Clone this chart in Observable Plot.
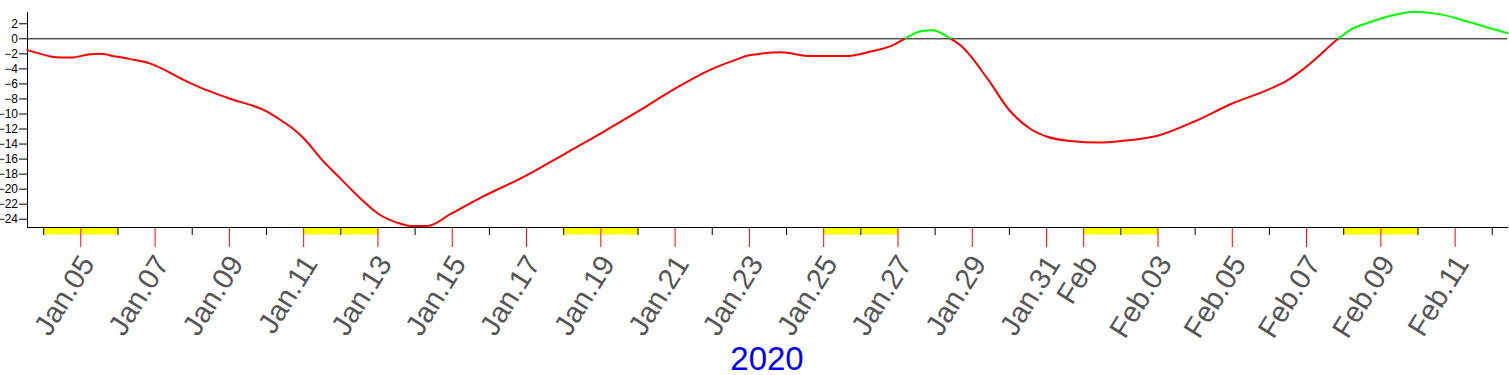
<!DOCTYPE html>
<html><head><meta charset="utf-8">
<script src="https://cdn.jsdelivr.net/npm/d3@7"></script>
<script src="https://cdn.jsdelivr.net/npm/@observablehq/plot@0.6"></script>
<style>
body{margin:0;background:#fff;}
#caption{width:1509px;box-sizing:border-box;padding-left:27px;padding-right:2px;text-align:center;font-family:"Liberation Sans",Arial,sans-serif;font-size:33px;color:#0000ff;line-height:38px;}
</style></head><body>
<div id="chart"></div>
<div id="caption">2020</div>
<script>
// series
const times = [
"2020-01-03T13:34","2020-01-03T22:00","2020-01-04T07:40","2020-01-04T17:25","2020-01-05T06:16","2020-01-05T12:43",
"2020-01-05T22:25","2020-01-06T08:07","2020-01-06T21:03","2020-01-07T06:43","2020-01-07T16:25","2020-01-08T05:21",
"2020-01-08T23:27","2020-01-09T23:21","2020-01-10T09:03","2020-01-10T16:45","2020-01-10T23:54","2020-01-11T11:00","2020-01-11T23:48",
"2020-01-12T13:00","2020-01-12T23:43","2020-01-13T14:34","2020-01-13T21:00","2020-01-14T08:00","2020-01-14T23:00",
"2020-01-15T18:45","2020-01-16T23:45","2020-01-17T23:54","2020-01-18T23:46","2020-01-19T23:46","2020-01-21T00:14",
"2020-01-22T00:00","2020-01-22T13:41","2020-01-23T00:00","2020-01-23T20:10","2020-01-24T15:22","2020-01-25T14:10",
"2020-01-26T06:14","2020-01-26T21:07","2020-01-27T04:19","2020-01-27T14:38","2020-01-27T22:19","2020-01-28T10:05",
"2020-01-28T16:34","2020-01-29T09:50","2020-01-30T00:00","2020-01-30T13:41","2020-01-31T00:00","2020-01-31T15:22",
"2020-02-01T10:48","2020-02-01T23:46","2020-02-02T23:46","2020-02-03T23:31","2020-02-05T00:00","2020-02-06T00:00",
"2020-02-06T11:00","2020-02-06T20:10","2020-02-07T04:34","2020-02-07T20:24","2020-02-08T04:19","2020-02-08T15:22",
"2020-02-09T01:40","2020-02-09T12:29","2020-02-09T21:07","2020-02-10T14:38","2020-02-11T07:55","2020-02-11T22:48",
"2020-02-12T09:50"];
const values = [
-1.5,-2.0,-2.45,-2.5,-2.05,-2.0,
-2.35,-2.7,-3.3,-4.2,-5.25,-6.5,
-7.9,-9.6,-10.8,-11.9,-13.2,-15.9,-18.6,
-21.3,-23.2,-24.6,-24.9,-24.9,-23.3,
-21.1,-18.2,-15.4,-12.6,-9.7,-6.6,
-4.0,-2.9,-2.2,-1.8,-2.3,-2.3,
-1.7,-0.8,0,1.0,1.15,0,
-0.9,-5.3,-9.5,-12.0,-13.0,-13.6,
-13.8,-13.6,-12.9,-11.0,-8.6,-6.7,
-5.6,-4.3,-2.9,0,1.2,2.1,
2.8,3.33,3.6,3.25,2.3,1.4,
0.75];
// axis ticks / labels
const yTicks = [2,0,-2,-4,-6,-8,-10,-12,-14,-16,-18,-20,-22,-24];
const yDomain = [-25.1, 3.5];
const labelTicks = ["2020-01-05","2020-01-07","2020-01-09","2020-01-11","2020-01-13","2020-01-15","2020-01-17",
"2020-01-19","2020-01-21","2020-01-23","2020-01-25","2020-01-27","2020-01-29","2020-01-31","2020-02-01",
"2020-02-03","2020-02-05","2020-02-07","2020-02-09","2020-02-11"];
const minorTicks = ["2020-01-04","2020-01-06","2020-01-08","2020-01-10","2020-01-12","2020-01-14","2020-01-16",
"2020-01-18","2020-01-20","2020-01-22","2020-01-24","2020-01-26","2020-01-28","2020-01-30","2020-02-02",
"2020-02-04","2020-02-06","2020-02-08","2020-02-10","2020-02-12"];
const weekendStarts = ["2020-01-04","2020-01-11","2020-01-18","2020-01-25","2020-02-01","2020-02-08"];
const weekendEnds   = ["2020-01-06","2020-01-13","2020-01-20","2020-01-27","2020-02-03","2020-02-10"];
const monthNames = ["Jan","Feb"];

const D = s => new Date((s.length === 10 ? s + "T00:00" : s) + "Z");
const data = times.map((t, i) => ({t: D(t), v: values[i]}));
const weekends = weekendStarts.map((s, i) => ({s: D(s), e: D(weekendEnds[i])}));
const fmt = d => {
  const m = monthNames[d.getUTCMonth()], day = d.getUTCDate();
  return day === 1 ? m : m + "." + String(day).padStart(2, "0");
};

const chart = Plot.plot({
  width: 1509, height: 340,
  marginLeft: 27, marginRight: 2, marginTop: 12, marginBottom: 113,
  style: {fontFamily: '"Liberation Sans", Arial, sans-serif', background: "white", overflow: "visible", color: "black"},
  x: {type: "utc", domain: [data[0].t, data[data.length - 1].t]},
  y: {domain: yDomain},
  marks: [
    Plot.ruleY(weekends, {x1: "s", x2: "e", y: yDomain[0], stroke: "#ffff00", strokeWidth: 7, dy: 3.5}),
    Plot.axisY(yTicks, {tickSize: 8, tickPadding: 1.5, fontSize: 12, label: null, stroke: "black", fill: "black"}),
    Plot.axisX(minorTicks.map(D), {tickSize: 8, stroke: "black", tickFormat: () => "", label: null}),
    Plot.axisX(labelTicks.map(D), {tickSize: 20, stroke: "red", tickFormat: () => "", label: null}),
    Plot.axisX(labelTicks.map(D), {tickSize: 20, stroke: "none", fill: "#555", tickRotate: -58, fontSize: 29, tickFormat: fmt, label: null, dx: 7, dy: 6}),
    Plot.frame({anchor: "left", stroke: "black"}),
    Plot.frame({anchor: "bottom", stroke: "black"}),
    Plot.ruleY([0], {stroke: "black"}),
    Plot.line(data, {x: "t", y: "v", stroke: "#ff0000", strokeWidth: 2, curve: "monotone-x"}),
    Plot.line(data, {x: "t", y: "v", stroke: "#00ff00", strokeWidth: 2, curve: "monotone-x"})
  ]
});

// colour the line by sign: clip the two copies at the zero level of the y scale
const y0 = chart.scale("y").apply(0);
const ns = "http://www.w3.org/2000/svg";
const defs = document.createElementNS(ns, "defs");
function addClip(id, y, h) {
  const cp = document.createElementNS(ns, "clipPath"); cp.setAttribute("id", id);
  const r = document.createElementNS(ns, "rect");
  r.setAttribute("x", -10); r.setAttribute("y", y); r.setAttribute("width", 1600); r.setAttribute("height", h);
  cp.appendChild(r); defs.appendChild(cp);
}
addClip("negClip", y0, 1000);
addClip("posClip", -1000, y0 + 1000);
chart.insertBefore(defs, chart.firstChild);
const lines = chart.querySelectorAll('g[aria-label="line"]');
if (lines.length === 2) {
  lines[0].setAttribute("clip-path", "url(#negClip)");
  lines[1].setAttribute("clip-path", "url(#posClip)");
}
document.getElementById("chart").appendChild(chart);
</script>
</body></html>
